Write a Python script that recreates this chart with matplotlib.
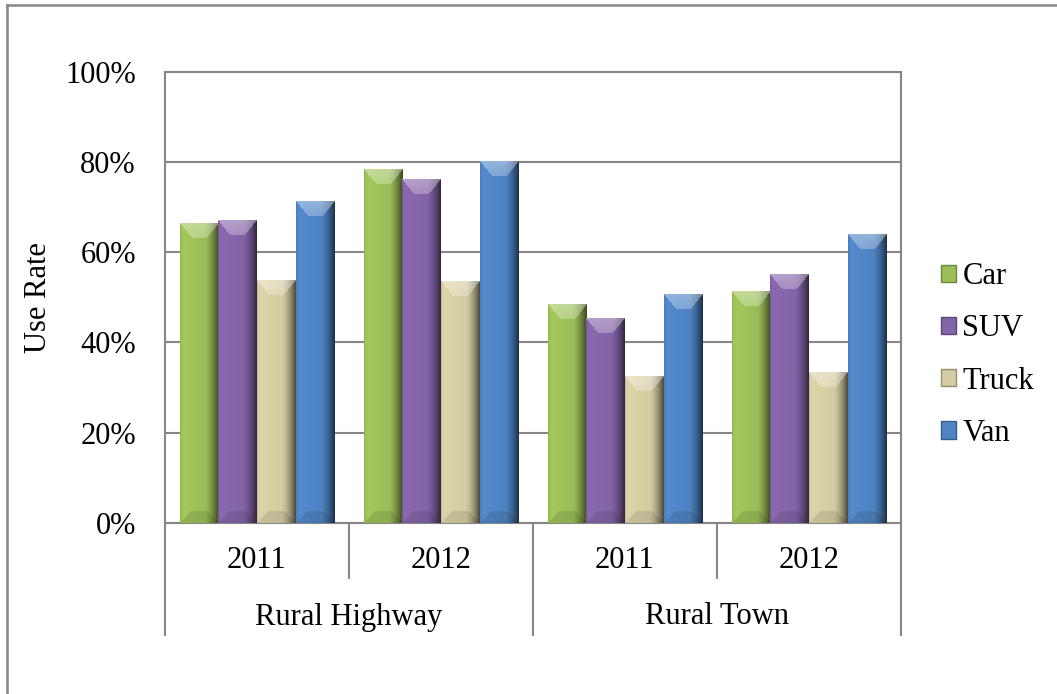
import numpy as np
import matplotlib
matplotlib.use('Agg')
import matplotlib.pyplot as plt
import matplotlib.colors as mcolors
import matplotlib.transforms as mtransforms
from matplotlib.patches import Rectangle
from matplotlib.lines import Line2D

# ---- data ----
years = ['2011', '2012', '2011', '2012']
groups = ['Rural Highway', 'Rural Town']
series = ['Car', 'SUV', 'Truck', 'Van']
car = [66.5, 78.5, 48.5, 51.4]
suv = [67.2, 76.2, 45.4, 55.2]
truck = [53.7, 53.5, 32.6, 33.4]
van = [71.4, 80.3, 50.7, 64.1]

COLORS = ['#9bbf58', '#8464a8', '#d4cca2', '#4f84c4']
GRID = '#868686'

plt.rcParams['font.family'] = ['Liberation Serif', 'DejaVu Serif']
plt.rcParams['font.size'] = 22


def bevel_rgb(color, wpx, hpx, side=12, top=15):
    # fake the Excel bevel: light top "V", dark right edge
    base = np.array(mcolors.to_rgb(color))
    X, Y = np.meshgrid(np.arange(wpx) + 0.5, np.arange(hpx) + 0.5)
    u = X / wpx
    shade = 1.05 - 0.08 * u
    shade = np.where(u > 0.62, shade - 0.62 * ((u - 0.62) / 0.38) ** 1.6, shade)
    shade = np.where(u < 0.06, shade - 0.12 * (0.06 - u) / 0.06, shade)
    img = base[None, None, :] * shade[..., None]

    dl = X / side
    dr = (wpx - X) / side
    dt = Y / top
    db = (hpx - Y) / side
    m = np.minimum.reduce([dl, dr, dt, db])
    white = np.ones(3)

    top_m = (dt == m) & (dt < 1)
    k = (0.38 - 0.12 * dt)[..., None]
    img = np.where(top_m[..., None], img * (1 - k) + white * k, img)
    bot_m = (db == m) & (db < 1)
    img = np.where(bot_m[..., None], img * 0.9, img)
    return np.clip(img, 0, 1)


fig = plt.figure(figsize=(10.57, 6.94), dpi=100)
W, H = 1057, 694
left, right, top, bottom = 165, 901, 72, 522.7
ax = fig.add_axes([left / W, 1 - bottom / H, (right - left) / W, (bottom - top) / H])

n = len(years)
x = np.arange(n)
width = 1 / (len(series) + 0.75)
ax.set_xlim(-0.5, n - 0.5)
ax.set_ylim(0, 100)

bars = []
for j, (vals, col) in enumerate(zip([car, suv, truck, van], COLORS)):
    bc = ax.bar(x + (j - 1.5) * width, vals, width, color=col, zorder=2)
    bars.append(bc)

for bc, col in zip(bars, COLORS):
    for p in bc:
        x0, y0 = p.get_x(), p.get_y()
        x1, y1 = x0 + p.get_width(), y0 + p.get_height()
        (px0, py0), (px1, py1) = ax.transData.transform([(x0, y0), (x1, y1)])
        wpx = max(int(round(px1 - px0)), 2)
        hpx = max(int(round(py1 - py0)), 2)
        img = bevel_rgb(col, wpx, hpx)
        ax.imshow(img, extent=(x0, x1, y0, y1), origin='upper', aspect='auto',
                  interpolation='bilinear', zorder=3)

ax.set_xlim(-0.5, n - 0.5)
ax.set_ylim(0, 100)

# axes styling
ax.set_axisbelow(True)
ax.yaxis.grid(True, color=GRID, linewidth=1.5)
for s in ax.spines.values():
    s.set_color(GRID)
    s.set_linewidth(1.5)
ax.set_yticks(range(0, 101, 20))
ax.set_yticklabels([f'{v}%' for v in range(0, 101, 20)])
ax.tick_params(axis='y', length=0, pad=21)
ax.set_xticks([])

ax.text((38 - left) / (right - left), 0.5, 'Use Rate', rotation=90,
        ha='center', va='center', transform=ax.transAxes)

# two-level category axis
trans = mtransforms.blended_transform_factory(ax.transData, ax.transAxes)
ph = bottom - top
y_year = (bottom - 561) / ph
y_group = (bottom - 617) / ph
y_sep1 = (bottom - 578) / ph
y_sep2 = (bottom - 635) / ph
for i, yr in enumerate(years):
    ax.text(i, y_year, yr, ha='center', va='center', transform=trans)
for g, name in enumerate(groups):
    ax.text(2 * g + 0.5, y_group, name, ha='center', va='center', transform=trans)
for xs in [0.5, 2.5]:
    ax.plot([xs, xs], [0, y_sep1], color=GRID, lw=1.5, transform=trans, clip_on=False)
for xs in [-0.5, 1.5, 3.5]:
    ax.plot([xs, xs], [0, y_sep2], color=GRID, lw=1.5, transform=trans, clip_on=False)

# legend
handles = [Rectangle((0, 0), 1, 1, facecolor=c, edgecolor=mcolors.to_hex(np.array(mcolors.to_rgb(c)) * 0.7),
                     linewidth=1) for c in COLORS]
fig.legend(handles, series, loc='center left', bbox_to_anchor=(941 / W, 1 - 355 / H),
           frameon=False, handlelength=0.5, handleheight=0.5, handletextpad=0.2,
           labelspacing=0.76, borderpad=0, borderaxespad=0)

# outer chart border (cropped at right and bottom)
fig.add_artist(Line2D([6.5 / W, 6.5 / W], [0, 1 - 5 / H], color=GRID, lw=1.8))
fig.add_artist(Line2D([6.5 / W, 1], [1 - 5 / H, 1 - 5 / H], color=GRID, lw=1.8))

fig.savefig('out.png', dpi=100)
